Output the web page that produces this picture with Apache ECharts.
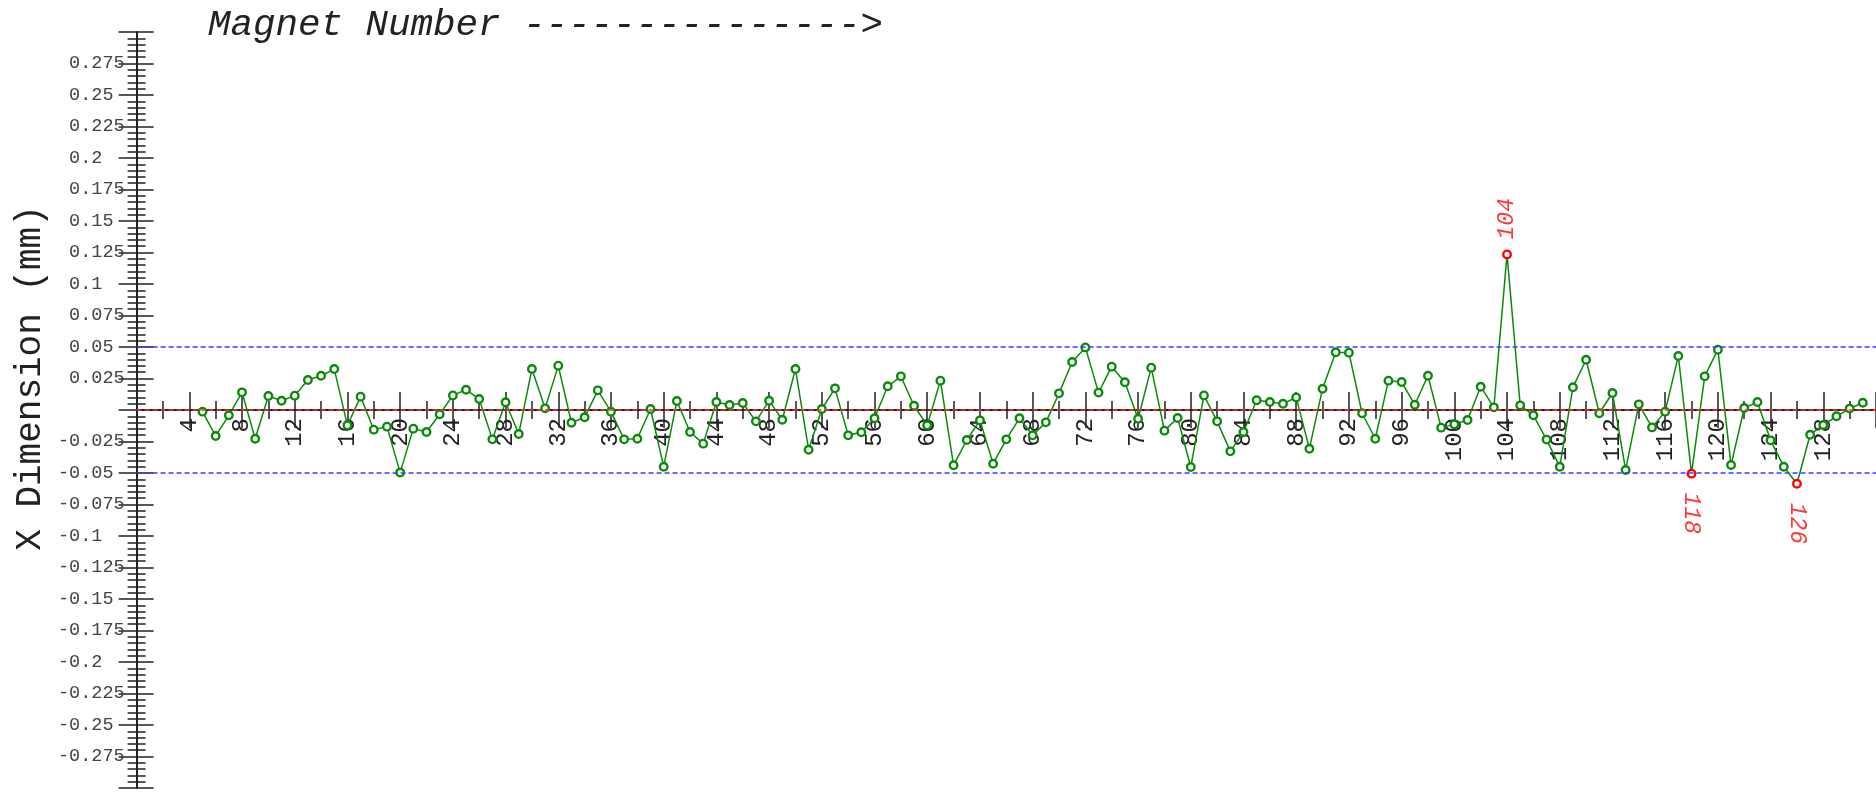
<!DOCTYPE html>
<html>
<head>
<meta charset="utf-8">
<script src="https://cdn.jsdelivr.net/npm/echarts@6/dist/echarts.min.js"></script>
<style>
html,body{margin:0;padding:0;background:#fff;}
#chart{width:1876px;height:795px;}
</style>
</head>
<body>
<div id="chart"></div>
<script>
// ---- data ----
const magnets = [5,6,7,8,9,10,11,12,13,14,15,16,17,18,19,20,21,22,23,24,25,26,27,28,29,30,
  31,32,33,34,35,36,37,38,39,40,41,42,43,44,45,46,47,48,49,50,51,52,53,54,55,56,57,58,59,60,
  61,62,63,64,65,66,67,68,69,70,71,72,73,74,75,76,77,78,79,80,81,82,83,84,85,86,87,88,89,90,
  91,92,93,94,95,96,97,98,99,100,101,102,103,104,105,106,107,108,109,110,111,112,113,114,115,
  116,117,118,119,120,121,122,123,124,125,126,127,128,129,130,131];
const xDimension = [
  -0.0013,-0.0206,-0.0042,0.0140,-0.0228,0.0111,0.0074,0.0114,0.0238,0.0272,   // 5-14
  0.0325,-0.0122,0.0106,-0.0156,-0.0132,-0.0497,-0.0148,-0.0175,-0.0034,0.0116, // 15-24
  0.0161,0.0087,-0.0233,0.0061,-0.0190,0.0325,0.0013,0.0352,-0.0101,-0.0058,    // 25-34
  0.0156,-0.0013,-0.0233,-0.0228,0.0008,-0.0450,0.0071,-0.0175,-0.0267,0.0063,  // 35-44
  0.0040,0.0056,-0.0090,0.0074,-0.0077,0.0325,-0.0315,0.0008,0.0172,-0.0201,    // 45-54
  -0.0177,-0.0066,0.0188,0.0267,0.0034,-0.0122,0.0233,-0.0439,-0.0238,-0.0082,  // 55-64
  -0.0426,-0.0233,-0.0066,-0.0201,-0.0098,0.0132,0.0381,0.0497,0.0138,0.0344,   // 65-74
  0.0220,-0.0069,0.0336,-0.0164,-0.0063,-0.0452,0.0116,-0.0090,-0.0328,-0.0175, // 75-84
  0.0077,0.0063,0.0050,0.0100,-0.0307,0.0169,0.0458,0.0455,-0.0026,-0.0228,     // 85-94
  0.0233,0.0222,0.0042,0.0272,-0.0140,-0.0114,-0.0079,0.0185,0.0021,0.1235,     // 95-104
  0.0037,-0.0042,-0.0235,-0.0450,0.0180,0.0399,-0.0026,0.0135,-0.0476,0.0045,   // 105-114
  -0.0138,-0.0013,0.0429,-0.0505,0.0267,0.0479,-0.0437,0.0016,0.0063,-0.0241,   // 115-124
  -0.0450,-0.0585,-0.0196,-0.0119,-0.0050,0.0011,0.0058                         // 125-131
];
const toleranceLimits = [-0.05, 0.05];
const nominalValue = [0];
const yTickStep = 0.025;
const xTickStep = 4;
const axisTitleY = 'X Dimension (mm)';
const axisTitleX = 'Magnet Number --------------->';

// ---- chart ----
const MONO = "'Liberation Mono','DejaVu Sans Mono',monospace";
const chart = echarts.init(document.getElementById('chart'), null, {renderer: 'canvas'});

const GRID = {left: 136.6, right: 0, top: 32, bottom: 7};
const H = 795 - GRID.top - GRID.bottom;
const Y_MIN = -0.3, Y_MAX = 0.3;
// place the x axis on the y = 0 line
const zeroFromBottom = H * (0 - Y_MIN) / (Y_MAX - Y_MIN);

const seriesData = magnets.map(function (m, i) {
  const v = xDimension[i];
  const out = Math.abs(v) > toleranceLimits[1];
  const item = {value: [m, v]};
  if (out) {
    item.itemStyle = {borderColor: '#ff0000'};
    item.label = {
      show: true,
      formatter: String(m),
      position: v > 0 ? 'top' : 'bottom',
      rotate: v > 0 ? 90 : -90,
      align: 'left',
      verticalAlign: 'middle',
      distance: v > 0 ? 10 : 14,
      color: '#ff3a3a',
      fontFamily: MONO,
      fontStyle: 'italic',
      fontSize: 23
    };
  }
  return item;
});

const yFmt = function (v) {
  if (Math.abs(v) < 1e-9 || Math.abs(v) > 0.29) return '';
  const s = String(+v.toFixed(3));
  return v > 0 ? ' ' + s : s;
};
const xFmt = function (v) {
  if (v <= 0 || v >= 132) return '';
  return String(v);
};

const option = {
  animation: false,
  backgroundColor: '#ffffff',
  grid: {left: GRID.left, right: GRID.right, top: GRID.top, bottom: GRID.bottom, outerBoundsMode: 'none', containLabel: false},
  xAxis: [
    {
      type: 'value', min: 0, max: 132, interval: xTickStep, position: 'bottom', offset: -zeroFromBottom,
      axisLine: {show: true, onZero: false, lineStyle: {color: '#222', width: 2}},
      axisTick: {show: true, inside: false, length: 18, lineStyle: {color: '#222', width: 1.5}},
      minorTick: {show: true, splitNumber: 2, length: 9, lineStyle: {color: '#222', width: 1.5}},
      axisLabel: {show: true, rotate: 90, margin: 8, formatter: xFmt, color: '#222', fontFamily: MONO, fontSize: 24},
      splitLine: {show: false}, minorSplitLine: {show: false}
    },
    {
      type: 'value', min: 0, max: 132, interval: xTickStep, position: 'bottom', offset: -zeroFromBottom,
      axisLine: {show: false, onZero: false},
      axisTick: {show: true, inside: true, length: 18, lineStyle: {color: '#222', width: 1.5}},
      minorTick: {show: true, splitNumber: 2, length: 9, lineStyle: {color: '#222', width: 1.5}},
      axisLabel: {show: false},
      splitLine: {show: false}, minorSplitLine: {show: false}
    }
  ],
  yAxis: [
    {
      type: 'value', min: Y_MIN, max: Y_MAX, interval: yTickStep, position: 'left',
      axisLine: {show: true, onZero: false, lineStyle: {color: '#222', width: 2}},
      axisTick: {show: true, inside: false, length: 18, lineStyle: {color: '#222', width: 1.5}},
      minorTick: {show: true, splitNumber: 5, length: 9, lineStyle: {color: '#222', width: 1.5}},
      axisLabel: {show: true, align: 'left', margin: 78.6, formatter: yFmt, color: '#444', fontFamily: MONO, fontSize: 18.5},
      splitLine: {show: false}, minorSplitLine: {show: false}
    },
    {
      type: 'value', min: Y_MIN, max: Y_MAX, interval: yTickStep, position: 'left',
      axisLine: {show: false, onZero: false},
      axisTick: {show: true, inside: true, length: 17, lineStyle: {color: '#222', width: 1.5}},
      minorTick: {show: true, splitNumber: 5, length: 9, lineStyle: {color: '#222', width: 1.5}},
      axisLabel: {show: false},
      splitLine: {show: false}, minorSplitLine: {show: false}
    }
  ],
  graphic: [
    {
      type: 'text', left: 208, top: 6,
      style: {text: axisTitleX, fill: '#222', font: "italic 37.5px " + MONO}
    },
    {
      type: 'text', x: 30, y: 378, rotation: Math.PI / 2,
      style: {text: axisTitleY, fill: '#222', font: "36px " + MONO, align: 'center', verticalAlign: 'middle'}
    }
  ],
  series: [
    {
      type: 'line', xAxisIndex: 0, yAxisIndex: 0,
      data: seriesData,
      symbol: 'circle', symbolSize: 7.5,
      showAllSymbol: true,
      lineStyle: {color: '#0a8a0a', width: 1.5},
      itemStyle: {color: '#ffffff', borderColor: '#0a8a0a', borderWidth: 2.4},
      emphasis: {disabled: true},
      z: 3,
      markLine: {
        silent: true, symbol: 'none', animation: false,
        label: {show: false},
        data: [
          {yAxis: toleranceLimits[1], lineStyle: {color: '#3a3aff', type: [5, 3], width: 1.6}},
          {yAxis: toleranceLimits[0], lineStyle: {color: '#3a3aff', type: [5, 3], width: 1.6}},
          {yAxis: nominalValue[0], lineStyle: {color: '#ff3030', type: [5, 3], width: 1.6}}
        ]
      }
    }
  ]
};
chart.setOption(option);
</script>
</body>
</html>
